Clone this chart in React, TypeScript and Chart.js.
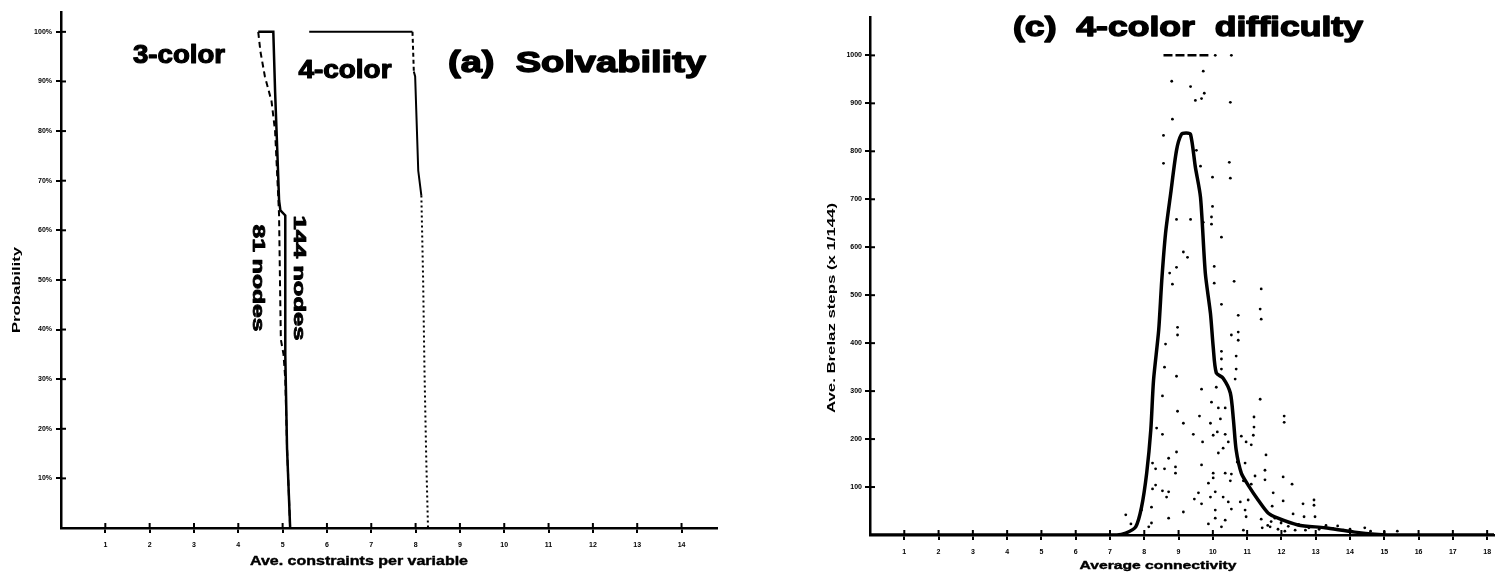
import React, { useEffect, useRef } from 'react';
import { Chart, registerables } from 'chart.js';

Chart.register(...registerables);

const FONT = '"Liberation Sans", Arial, Helvetica, sans-serif';

// ---------- Panel (a): Solvability ----------
const solvXTicks = [1, 2, 3, 4, 5, 6, 7, 8, 9, 10, 11, 12, 13, 14];
const solvYTicks = [10, 20, 30, 40, 50, 60, 70, 80, 90, 100];

const threeColor144X = [4.45, 4.79, 4.83, 4.88, 4.92, 4.95, 5.06, 5.06, 5.1, 5.17];
const threeColor144Y = [100, 100, 88, 76, 66, 64, 63, 35, 16, 0];

const threeColor81X = [4.45, 4.5, 4.6, 4.75, 4.83, 4.9, 4.92, 4.94, 4.96, 5.02, 5.06, 5.1, 5.17];
const threeColor81Y = [100, 96, 91, 86, 80, 67, 63, 50, 38, 35, 30, 16, 0];

const fourColor144X = [5.6, 7.93, 7.96, 7.99, 8.06, 8.13];
const fourColor144Y = [100, 100, 92, 91, 72, 67];

const fourColor81X = [8.13, 8.17, 8.2, 8.24, 8.28];
const fourColor81Y = [67, 50, 32, 14, 0];

// ---------- Panel (c): 4-color difficulty ----------
const diffXTicks = [1, 2, 3, 4, 5, 6, 7, 8, 9, 10, 11, 12, 13, 14, 15, 16, 17, 18];
const diffYTicks = [100, 200, 300, 400, 500, 600, 700, 800, 900, 1000];

const curveX = [0, 7.2, 7.46, 7.75, 7.92, 8.07, 8.19, 8.27, 8.42, 8.51, 8.62, 8.77, 8.94, 9.08, 9.22, 9.35, 9.49, 9.64, 9.78, 9.93, 10.01, 10.1, 10.3, 10.51, 10.6, 10.68, 10.83, 11.03, 11.32, 11.61, 11.9, 12.48, 13.27, 14.14, 15.1, 18.2];
const curveY = [0, 0, 4, 17, 58, 129, 219, 323, 427, 531, 629, 712, 802, 835, 838, 835, 767, 704, 546, 462, 392, 338, 327, 296, 240, 177, 129, 104, 73, 46, 35, 21, 15, 6, 0, 0];

const cappedX = [8.56, 9.87];
const cappedY = [1000, 1000];
const cappedDotsX = [10.07, 10.54];
const cappedDotsY = [1000, 1000];

const scatterX = [9.72, 8.8, 9.35, 9.75, 9.49, 9.67, 10.51, 8.82, 8.56, 9.52, 8.56, 9.64, 10.48, 9.99, 10.51, 9.99, 9.96, 8.94, 9.35, 9.72, 9.96, 10.25, 9.14, 9.26, 8.94, 10.04, 8.74, 8.82, 10.04, 10.62, 11.41, 10.25, 11.38, 10.74, 11.41, 8.97, 8.97, 10.54, 10.74, 10.74, 8.62, 10.25, 10.68, 10.25, 8.59, 10.25, 10.68, 8.94, 10.65, 10.1, 9.67, 8.53, 9.96, 11.38, 10.16, 10.36, 8.97, 9.61, 10.22, 12.08, 12.08, 11.2, 9.14, 9.93, 11.2, 8.36, 10.13, 11.18, 8.53, 9.43, 10.01, 10.36, 10.83, 9.7, 10.45, 10.97, 11.12, 10.3, 8.94, 10.16, 11.55, 8.71, 10.71, 8.24, 10.94, 9.67, 8.91, 8.33, 8.59, 11.52, 8.91, 10.01, 10.36, 10.54, 10.01, 11.23, 12.05, 10.51, 11.52, 10.89, 9.87, 11.12, 8.33, 12.31, 8.53, 8.24, 10.07, 8.71, 9.58, 11.76, 8.65, 9.93, 10.3, 9.46, 10.8, 12.05, 9.67, 10.45, 11.03, 12.95, 12.95, 12.63, 11.73, 8.21, 9.14, 10.07, 10.54, 10.94, 7.92, 7.46, 8.71, 10.07, 10.36, 10.97, 11.41, 11.81, 12.34, 12.66, 12.98, 8.21, 8.13, 7.61, 9.87, 10.25, 10.89, 11.44, 11.67, 11.99, 13.64, 14.43, 15.38, 11.6, 12.2, 12.5, 12.8, 13.1, 13.3, 13.8, 14.0, 14.6, 15.0, 12.0, 11.9, 12.4, 13.5, 11.7, 12.1, 12.7];
const scatterY = [967, 946, 935, 921, 906, 910, 902, 867, 833, 802, 775, 769, 777, 746, 744, 685, 663, 658, 658, 652, 648, 621, 590, 579, 558, 560, 546, 523, 525, 529, 513, 481, 471, 458, 450, 433, 417, 417, 423, 406, 398, 383, 373, 367, 350, 346, 346, 331, 325, 308, 304, 290, 277, 283, 265, 265, 258, 248, 242, 248, 235, 246, 233, 233, 225, 223, 215, 208, 210, 210, 208, 210, 206, 194, 194, 194, 188, 181, 173, 171, 167, 160, 152, 150, 150, 146, 142, 138, 138, 135, 129, 129, 129, 127, 119, 123, 121, 113, 115, 113, 108, 106, 104, 106, 92, 96, 90, 90, 88, 88, 79, 79, 79, 75, 69, 71, 65, 69, 73, 73, 62, 65, 60, 58, 48, 52, 54, 52, 52, 42, 35, 35, 31, 38, 33, 35, 44, 38, 38, 25, 17, 23, 23, 17, 10, 15, 17, 25, 19, 15, 8, 20, 18, 22, 15, 12, 20, 10, 12, 8, 6, 30, 12, 10, 14, 28, 8, 10];

const pts = (xs: number[], ys: number[]) => xs.map((x, i) => ({ x, y: ys[i] }));

type TextLabel = {
  text: string;
  x: number;
  y: number;
  size: number;
  width: number;
  rot?: number;
  baseline?: CanvasTextBaseline;
  heavy?: number;
};

const textPlugin = (id: string, labels: TextLabel[]) => ({
  id,
  afterDraw(chart: any) {
    const ctx = chart.ctx as CanvasRenderingContext2D;
    labels.forEach((l) => {
      ctx.save();
      ctx.font = `bold ${l.size}px ${FONT}`;
      const w = ctx.measureText(l.text).width || 1;
      ctx.translate(l.x, l.y);
      if (l.rot) ctx.rotate((l.rot * Math.PI) / 180);
      ctx.scale(l.width / w, 1);
      ctx.textAlign = 'center';
      ctx.textBaseline = l.baseline || 'alphabetic';
      ctx.fillStyle = '#000';
      ctx.fillText(l.text, 0, 0);
      if (l.heavy) {
        ctx.strokeStyle = '#000';
        ctx.lineWidth = l.heavy;
        ctx.lineJoin = 'round';
        ctx.strokeText(l.text, 0, 0);
      }
      ctx.restore();
    });
  },
});

const crossPlugin = {
  id: 'crossTicks',
  afterDraw(chart: any) {
    const { ctx, chartArea, scales } = chart;
    ctx.save();
    ctx.strokeStyle = '#000';
    ctx.lineWidth = 2;
    scales.x.ticks.forEach((t: any) => {
      const px = scales.x.getPixelForValue(t.value);
      ctx.beginPath();
      ctx.moveTo(px, chartArea.bottom);
      ctx.lineTo(px, chartArea.bottom - 5);
      ctx.stroke();
    });
    scales.y.ticks.forEach((t: any) => {
      const py = scales.y.getPixelForValue(t.value);
      ctx.beginPath();
      ctx.moveTo(chartArea.left, py);
      ctx.lineTo(chartArea.left + 5, py);
      ctx.stroke();
    });
    ctx.restore();
  },
};

const tickFont = { family: FONT, size: 7, weight: 'bold' as const };

function makeAxis(opts: {
  min: number;
  max: number;
  tickValues: number[];
  fmt: (v: number) => string;
  padding: number;
  fit: (s: any) => void;
}) {
  return {
    type: 'linear' as const,
    min: opts.min,
    max: opts.max,
    afterBuildTicks: (scale: any) => {
      scale.ticks = opts.tickValues.map((v) => ({ value: v }));
    },
    border: { display: true, color: '#000', width: 2.5 },
    grid: { drawOnChartArea: false, drawTicks: true, tickLength: 5, color: '#000', lineWidth: 2 },
    ticks: {
      autoSkip: false,
      maxRotation: 0,
      minRotation: 0,
      padding: opts.padding,
      color: '#000',
      font: tickFont,
      callback: (v: any) => opts.fmt(Number(v)),
    },
    afterFit: (s: any) => {
      opts.fit(s);
      s.paddingLeft = 0;
      s.paddingRight = 0;
      s.paddingTop = 0;
      s.paddingBottom = 0;
    },
  };
}

const leftLabels: TextLabel[] = [
  { text: '3-color', x: 179, y: 63, size: 26, width: 92, heavy: 1.2 },
  { text: '4-color', x: 345, y: 78, size: 26, width: 93, heavy: 1.2 },
  { text: '(a)  Solvability', x: 577, y: 72, size: 30, width: 258, heavy: 1.4 },
  { text: '81 nodes', x: 257, y: 278, size: 16, width: 107, rot: 90, baseline: 'middle', heavy: 0.8 },
  { text: '144 nodes', x: 298, y: 278, size: 16, width: 125, rot: 90, baseline: 'middle', heavy: 0.8 },
  { text: 'Probability', x: 17, y: 290, size: 10, width: 86, rot: -90, baseline: 'middle' },
  { text: 'Ave. constraints per variable', x: 359, y: 565, size: 12, width: 218, heavy: 0.4 },
];

const rightLabels: TextLabel[] = [
  { text: '(c)  4-color  difficulty', x: 428, y: 36, size: 28, width: 350, heavy: 1.4 },
  { text: 'Average connectivity', x: 398, y: 569, size: 11, width: 157, heavy: 0.4 },
  { text: 'Ave. Brelaz steps (x 1/144)', x: 72, y: 308, size: 10, width: 210, rot: -90, baseline: 'middle' },
];

function SolvabilityChart() {
  const ref = useRef<HTMLCanvasElement | null>(null);
  useEffect(() => {
    if (!ref.current) return;
    const chart = new Chart(ref.current, {
      type: 'scatter',
      data: {
        datasets: [
          {
            label: '3-color, 81 nodes',
            data: pts(threeColor81X, threeColor81Y),
            showLine: true,
            borderColor: '#000',
            borderWidth: 2,
            borderDash: [6, 4],
            pointRadius: 0,
          },
          {
            label: '3-color, 144 nodes',
            data: pts(threeColor144X, threeColor144Y),
            showLine: true,
            borderColor: '#000',
            borderWidth: 2.5,
            pointRadius: 0,
          },
          {
            label: '4-color, 81 nodes',
            data: pts(fourColor81X, fourColor81Y),
            showLine: true,
            borderColor: '#000',
            borderWidth: 2,
            borderDash: [2, 3],
            pointRadius: 0,
          },
          {
            label: '4-color, 144 nodes',
            data: pts(fourColor144X, fourColor144Y),
            showLine: true,
            borderColor: '#000',
            borderWidth: 2,
            pointRadius: 0,
            segment: {
              borderDash: (c: any) => (c.p0DataIndex === 1 ? [4, 3] : undefined),
            },
          } as any,
        ],
      },
      options: {
        animation: false,
        responsive: false,
        devicePixelRatio: 1,
        layout: { padding: { top: 12, right: 43, left: 0, bottom: 0 } },
        plugins: { legend: { display: false }, tooltip: { enabled: false }, title: { display: false } },
        scales: {
          x: makeAxis({
            min: 0,
            max: 14.8,
            tickValues: solvXTicks,
            fmt: (v) => String(v),
            padding: 8,
            fit: (s) => {
              s.height = 47;
            },
          }),
          y: makeAxis({
            min: 0,
            max: 104,
            tickValues: solvYTicks,
            fmt: (v) => `${v}%`,
            padding: 4,
            fit: (s) => {
              s.width = 61;
            },
          }),
        } as any,
      },
      plugins: [crossPlugin, textPlugin('solvTexts', leftLabels)],
    });
    return () => chart.destroy();
  }, []);
  return (
    <canvas
      ref={ref}
      width={760}
      height={575}
      style={{ position: 'absolute', left: 0, top: 0, width: 760, height: 575 }}
    />
  );
}

function DifficultyChart() {
  const ref = useRef<HTMLCanvasElement | null>(null);
  useEffect(() => {
    if (!ref.current) return;
    const chart = new Chart(ref.current, {
      type: 'scatter',
      data: {
        datasets: [
          {
            label: 'Instances',
            data: pts(scatterX, scatterY),
            showLine: false,
            backgroundColor: '#000',
            borderWidth: 0,
            pointRadius: 1.4,
          },
          {
            label: 'Capped instances',
            data: pts(cappedDotsX, cappedDotsY),
            showLine: false,
            backgroundColor: '#000',
            borderWidth: 0,
            pointRadius: 1.4,
          },
          {
            label: 'Capped run',
            data: pts(cappedX, cappedY),
            showLine: true,
            borderColor: '#000',
            borderWidth: 2.5,
            borderDash: [9, 3],
            pointRadius: 0,
          },
          {
            label: 'Average',
            data: pts(curveX, curveY),
            showLine: true,
            borderColor: '#000',
            borderWidth: 3.5,
            tension: 0.25,
            pointRadius: 0,
          },
        ],
      },
      options: {
        animation: false,
        responsive: false,
        devicePixelRatio: 1,
        layout: { padding: { top: 17, right: 0, left: 0, bottom: 0 } },
        plugins: { legend: { display: false }, tooltip: { enabled: false }, title: { display: false } },
        scales: {
          x: makeAxis({
            min: 0,
            max: 18.2,
            tickValues: diffXTicks,
            fmt: (v) => String(v),
            padding: 8,
            fit: (s) => {
              s.height = 40;
            },
          }),
          y: makeAxis({
            min: 0,
            max: 1080,
            tickValues: diffYTicks,
            fmt: (v) => String(v),
            padding: 3,
            fit: (s) => {
              s.width = 110;
            },
          }),
        } as any,
      },
      plugins: [crossPlugin, textPlugin('diffTexts', rightLabels)],
    });
    return () => chart.destroy();
  }, []);
  return (
    <canvas
      ref={ref}
      width={738}
      height={575}
      style={{ position: 'absolute', left: 760, top: 0, width: 738, height: 575 }}
    />
  );
}

export default function App() {
  return (
    <div
      style={{
        position: 'absolute',
        left: 0,
        top: 0,
        width: 1498,
        height: 575,
        background: '#fff',
        overflow: 'hidden',
      }}
    >
      <SolvabilityChart />
      <DifficultyChart />
    </div>
  );
}
